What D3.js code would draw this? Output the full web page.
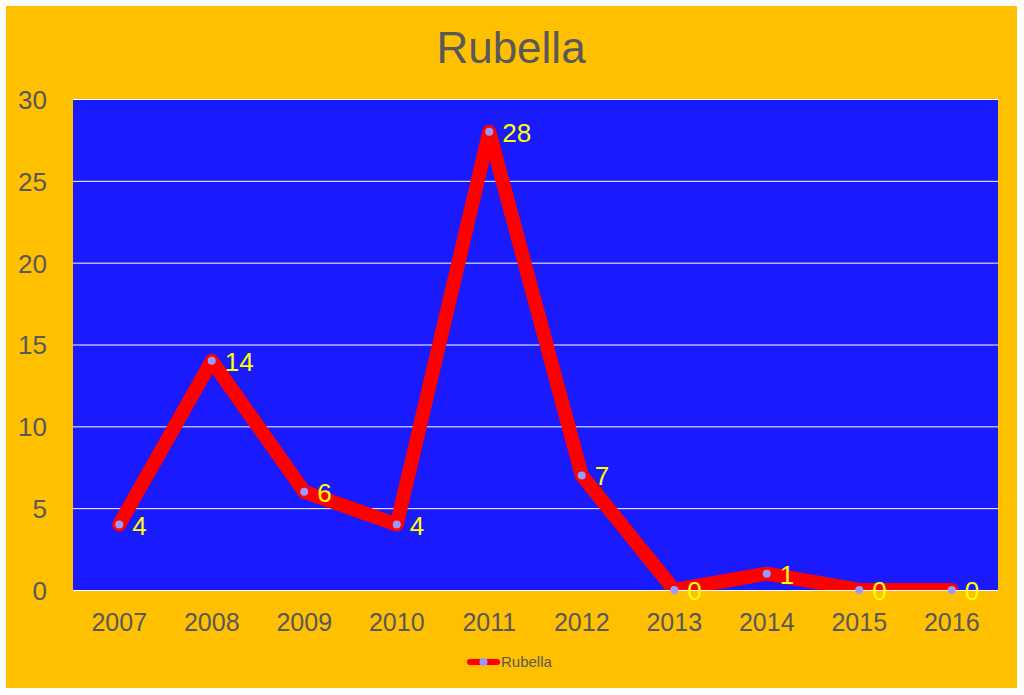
<!DOCTYPE html>
<html><head><meta charset="utf-8">
<script src="https://cdn.jsdelivr.net/npm/d3@7"></script>
<style>body{margin:0;background:#fff;}svg{display:block;font-family:"Liberation Sans",Arial,sans-serif;}</style>
</head><body>
<svg id="c" width="1024" height="695"></svg>
<script>
const years = ["2007","2008","2009","2010","2011","2012","2013","2014","2015","2016"];
const cases = [4,14,6,4,28,7,0,1,0,0];
const yTicks = [0,5,10,15,20,25,30];
const seriesName = "Rubella";

const svg = d3.select("#c");
svg.append("rect").attr("x",6).attr("y",6).attr("width",1011).attr("height",682).attr("fill","#FFC000");

const m = {l:73, r:998, t:99, b:590};
const x = d3.scaleBand().domain(years).range([m.l,m.r]);
const y = d3.scaleLinear().domain([0,30]).range([m.b,m.t]);

svg.append("rect").attr("x",m.l).attr("y",m.t).attr("width",m.r-m.l).attr("height",m.b-m.t).attr("fill","#1A1AFF");

svg.append("g").selectAll("line").data(yTicks).join("line")
  .attr("x1",m.l).attr("x2",m.r).attr("y1",d=>y(d)+0.5).attr("y2",d=>y(d)+0.5)
  .attr("stroke","#ffffff").attr("stroke-width",1);

svg.append("text").attr("x",511).attr("y",63).attr("text-anchor","middle")
  .attr("font-size",44).attr("fill","#595959").text(seriesName);

// y axis
const ya = svg.append("g").attr("transform",`translate(47,0)`)
  .call(d3.axisLeft(y).tickValues(yTicks).tickSize(0).tickPadding(0));
ya.select(".domain").remove();
ya.selectAll("text").attr("font-size",26).attr("fill","#595959").attr("font-family","Liberation Sans, Arial, sans-serif")
  .attr("dy","0.36em");

// x axis
const xa = svg.append("g").attr("transform",`translate(0,${m.b})`)
  .call(d3.axisBottom(x).tickSize(0).tickPadding(0));
xa.select(".domain").remove();
xa.selectAll("text").attr("font-size",25).attr("fill","#595959").attr("font-family","Liberation Sans, Arial, sans-serif")
  .attr("dy",null).attr("y",41);

svg.append("clipPath").attr("id","pc").append("rect")
  .attr("x",m.l).attr("y",m.t-20).attr("width",m.r-m.l).attr("height",m.b-m.t+20);

const line = d3.line().x((d,i)=>x(years[i])+x.bandwidth()/2).y(d=>y(d));
svg.append("path").datum(cases).attr("d",line).attr("fill","none")
  .attr("stroke","#FF0000").attr("stroke-width",14).attr("stroke-linejoin","round").attr("stroke-linecap","round")
  .attr("clip-path","url(#pc)");

svg.append("g").selectAll("circle").data(cases).join("circle")
  .attr("cx",(d,i)=>x(years[i])+x.bandwidth()/2).attr("cy",d=>y(d)).attr("r",4)
  .attr("fill","#9999FF");

svg.append("g").selectAll("text").data(cases).join("text")
  .attr("x",(d,i)=>x(years[i])+x.bandwidth()/2+13).attr("y",d=>y(d)+10)
  .attr("font-size",26).attr("fill","#FFFF00").text(d=>d);

// legend
const lg = svg.append("g");
lg.append("line").attr("x1",470).attr("x2",497).attr("y1",662).attr("y2",662)
  .attr("stroke","#FF0000").attr("stroke-width",6).attr("stroke-linecap","round");
lg.append("circle").attr("cx",483.5).attr("cy",662).attr("r",4).attr("fill","#9999FF");
lg.append("text").attr("x",501).attr("y",667).attr("font-size",15).attr("fill","#595959").text(seriesName);
</script>
</body></html>
